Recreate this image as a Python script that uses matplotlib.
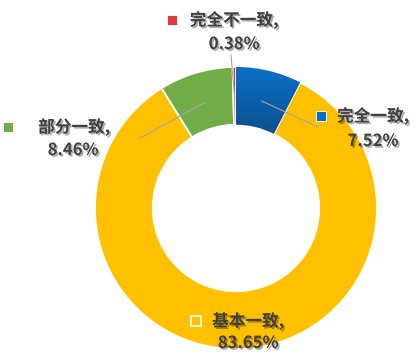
import numpy as np
import matplotlib
matplotlib.use("Agg")
from matplotlib import pyplot as plt
from matplotlib import patheffects
from matplotlib.colors import LinearSegmentedColormap

plt.rcParams['font.family'] = ['Noto Sans CJK SC', 'DejaVu Sans']

labels = ['完全一致', '基本一致', '部分一致', '完全不一致']
values = [7.52, 83.65, 8.46, 0.38]
colors = ['#0A6DC2', '#FFC000', '#70AD47', '#E0393B']
explode = [0.045, 0.03, 0.04, 0.04]

W, H = 418, 362
fig = plt.figure(figsize=(W / 100, H / 100), dpi=100)
ax = fig.add_axes([0, 0, 1, 1])

cx, cy, R = 236, H - 208, 141
wedges, _ = ax.pie(values, colors=colors, startangle=90, counterclock=False,
                   explode=explode, radius=R, center=(cx, cy),
                   wedgeprops=dict(width=R * 0.41, edgecolor='white', linewidth=1.3))

# blue slice has a top-to-bottom gradient in the original
blue = wedges[0]
bb = blue.get_path().get_extents(blue.get_transform()).transformed(ax.transData.inverted())
grad = LinearSegmentedColormap.from_list('g', ['#0B4F8F', '#0A70C8'])
img = ax.imshow(np.linspace(0, 1, 64).reshape(-1, 1), cmap=grad, aspect='auto',
                extent=(bb.x0, bb.x1, bb.y0, bb.y1), origin='lower', zorder=blue.get_zorder())
img.set_clip_path(blue)

# pie/imshow reset the limits, so set them afterwards
ax.set_xlim(0, W)
ax.set_ylim(0, H)
ax.set_aspect('equal')
ax.axis('off')

shadow = [patheffects.SimplePatchShadow(offset=(1.2, -1.2), alpha=0.35), patheffects.Normal()]
txt = dict(fontsize=12, fontweight='bold', color='#404040', path_effects=shadow)

# name pos, value pos (pixel coords, top-left origin), marker x, leader end
layout = {
    '完全一致': ((373, 116), (373, 141), 321, (318, 127)),
    '基本一致': ((248, 321), (248, 343), 196, None),
    '部分一致': ((74, 127), (73, 150), 8, (140, 138)),
    '完全不一致': ((234, 20), (234, 44), 172, (231, 55)),
}

for w, lab, val, col in zip(wedges, labels, values, colors):
    (lx, ly), (vx, vy), mx, lead = layout[lab]
    ax.text(lx, H - ly, lab + ',', ha='center', va='center', **txt)
    ax.text(vx, H - vy, '%.2f%%' % val, ha='center', va='center', **txt)
    if lab == '基本一致':
        ax.scatter([mx], [H - ly], marker='s', s=60, facecolor=col, edgecolor='white', linewidths=1.2, zorder=5)
    else:
        ax.scatter([mx], [H - ly], marker='s', s=45, facecolor=col, edgecolor='white', linewidths=0.6, zorder=5)
    if lead is not None:
        ang = np.deg2rad((w.theta1 + w.theta2) / 2)
        r0 = R * 0.78
        x0 = w.center[0] + r0 * np.cos(ang)
        y0 = w.center[1] + r0 * np.sin(ang)
        ax.plot([x0, lead[0]], [y0, H - lead[1]], color='#A6A6A6', linewidth=0.8, zorder=4)

fig.savefig('out.png', dpi=100)
